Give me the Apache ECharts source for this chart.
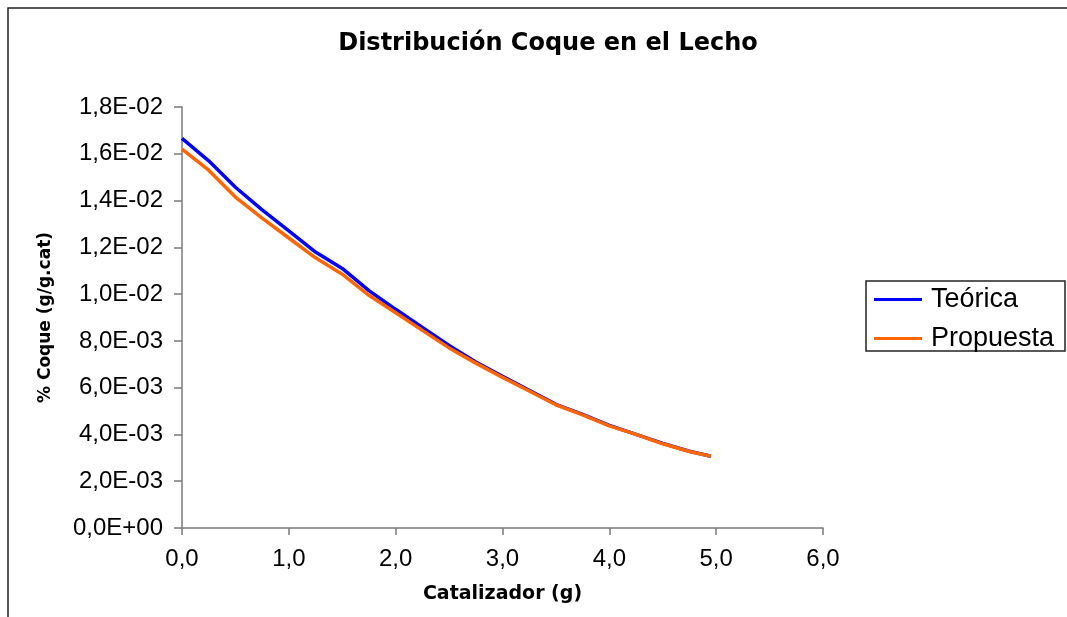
<!DOCTYPE html>
<html>
<head>
<meta charset="utf-8">
<script src="https://cdn.jsdelivr.net/npm/echarts@6/dist/echarts.min.js"></script>
<style>
  html, body { margin: 0; padding: 0; background: #fff; }
  #chart { width: 1067px; height: 617px; }
</style>
</head>
<body>
<div id="chart"></div>
<script>
// Catalyst mass (g)
const catalizador = [0, 0.25, 0.5, 0.75, 1.0, 1.25, 1.5, 1.75, 2.0, 2.25, 2.5,
                     2.75, 3.0, 3.25, 3.5, 3.75, 4.0, 4.25, 4.5, 4.75, 4.95];
// Coke content (g/g.cat), theoretical model
const teorica = [0.01666, 0.01570, 0.01457, 0.01360, 0.01270, 0.01180, 0.01110,
                 0.01015, 0.00935, 0.00857, 0.00780, 0.00710, 0.00649, 0.00589,
                 0.00529, 0.00486, 0.00439, 0.00400, 0.00362, 0.00328, 0.00307];
// Coke content (g/g.cat), proposed model
const propuesta = [0.01620, 0.01530, 0.01415, 0.01325, 0.01240, 0.01155, 0.01085,
                   0.00995, 0.00920, 0.00845, 0.00770, 0.00705, 0.00644, 0.00586,
                   0.00527, 0.00484, 0.00437, 0.00400, 0.00360, 0.00327, 0.00307];

const xTickLabels = ['0,0', '1,0', '2,0', '3,0', '4,0', '5,0', '6,0'];
const yTickLabels = ['0,0E+00', '2,0E-03', '4,0E-03', '6,0E-03', '8,0E-03',
                     '1,0E-02', '1,2E-02', '1,4E-02', '1,6E-02', '1,8E-02'];

const toPairs = (xs, ys) => xs.map((x, i) => [x, ys[i]]);

const chart = echarts.init(document.getElementById('chart'), null, { renderer: 'canvas' });

const axisLine = { show: true, lineStyle: { color: '#7a7a7a', width: 1.5 } };
const tickFont = { fontFamily: 'Liberation Sans', fontSize: 24, color: '#000' };

chart.setOption({
  backgroundColor: '#fff',
  animation: false,
  graphic: [
    {
      type: 'rect',
      shape: { x: 8, y: 8, width: 1080, height: 640 },
      style: { fill: 'none', stroke: '#222', lineWidth: 1.5 },
      silent: true
    },
    {
      type: 'rect',
      shape: { x: 866, y: 281, width: 199, height: 70 },
      style: { fill: '#fff', stroke: '#222', lineWidth: 1.5 },
      silent: true,
      z: 0
    }
  ],
  title: {
    text: 'Distribución Coque en el Lecho',
    left: 543,
    top: 27,
    textAlign: 'center',
    textStyle: { fontFamily: 'DejaVu Sans', fontWeight: 'bold', fontSize: 24, color: '#000' }
  },
  legend: {
    orient: 'vertical',
    left: 874,
    top: 286,
    padding: 0,
    itemWidth: 48,
    itemHeight: 3,
    itemGap: 12,
    icon: 'rect',
    textStyle: { fontFamily: 'Liberation Sans', fontSize: 27, color: '#000', padding: [0, 0, 0, 4] },
    data: ['Teórica', 'Propuesta'],
    z: 10
  },
  grid: { left: 182, top: 107, right: 244, bottom: 89, containLabel: false },
  xAxis: {
    type: 'value',
    min: 0,
    max: 6,
    interval: 1,
    name: 'Catalizador (g)',
    nameLocation: 'middle',
    nameGap: 57,
    nameTextStyle: { fontFamily: 'DejaVu Sans', fontWeight: 'bold', fontSize: 19, color: '#000' },
    axisLine: axisLine,
    axisTick: { show: true, inside: false, length: 7, lineStyle: { color: '#7a7a7a', width: 1.5 } },
    axisLabel: Object.assign({ margin: 19, formatter: (v) => xTickLabels[Math.round(v)] }, tickFont),
    splitLine: { show: false }
  },
  yAxis: {
    type: 'value',
    min: 0,
    max: 0.018,
    interval: 0.002,
    name: '% Coque (g/g.cat)',
    nameLocation: 'middle',
    nameGap: 128,
    nameRotate: 90,
    nameTextStyle: { fontFamily: 'DejaVu Sans', fontWeight: 'bold', fontSize: 17, color: '#000' },
    axisLine: axisLine,
    axisTick: { show: true, inside: false, length: 8, lineStyle: { color: '#7a7a7a', width: 1.5 } },
    axisLabel: Object.assign({ margin: 19, formatter: (v) => yTickLabels[Math.round(v / 0.002)] }, tickFont),
    splitLine: { show: false }
  },
  series: [
    {
      name: 'Teórica',
      type: 'line',
      data: toPairs(catalizador, teorica),
      showSymbol: false,
      color: '#0000ff',
      lineStyle: { color: '#0000ff', width: 3.5 }
    },
    {
      name: 'Propuesta',
      type: 'line',
      data: toPairs(catalizador, propuesta),
      showSymbol: false,
      color: '#ff6600',
      lineStyle: { color: '#ff6600', width: 3.5 }
    }
  ]
});
</script>
</body>
</html>
